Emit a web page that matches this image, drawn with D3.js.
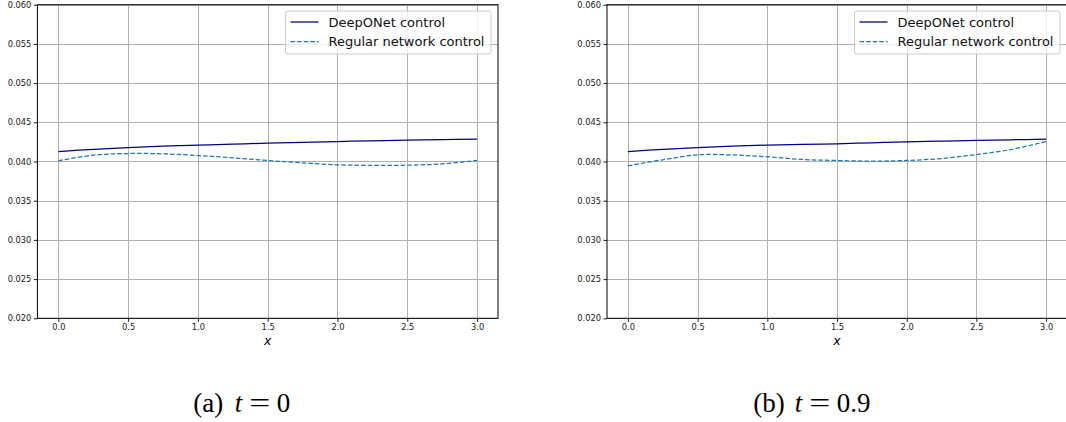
<!DOCTYPE html>
<html>
<head>
<meta charset="utf-8">
<script src="https://cdn.jsdelivr.net/npm/d3@7"></script>
<style>
  body { margin: 0; background: #fff; }
  svg { display: block; }
  .tick text { font-family: "DejaVu Sans", sans-serif; font-size: 8.3px; fill: #222; }
</style>
</head>
<body>
<svg width="1066" height="422"></svg>
<script>
var xs = [0, 0.25, 0.5, 0.75, 1.0, 1.25, 1.5, 1.75, 2.0, 2.25, 2.5, 2.75, 3.0];

// panel (a) t = 0
var deepT0 = [0.04127, 0.04155, 0.04178, 0.04195, 0.04209, 0.04222, 0.04234, 0.04245, 0.04255, 0.04264, 0.04273, 0.04280, 0.04285];
var regT0  = [0.04009, 0.04081, 0.04102, 0.04098, 0.04076, 0.04047, 0.04013, 0.03983, 0.03958, 0.03950, 0.03953, 0.03969, 0.04013];

// panel (b) t = 0.9
var deepT09 = [0.04127, 0.04155, 0.04178, 0.04195, 0.04209, 0.04218, 0.04226, 0.04239, 0.04251, 0.04260, 0.04268, 0.04277, 0.04285];
var regT09  = [0.03945, 0.04022, 0.04085, 0.04083, 0.04060, 0.04026, 0.04013, 0.04005, 0.04013, 0.04038, 0.04089, 0.04153, 0.04255];

var xTicks = [0, 0.5, 1.0, 1.5, 2.0, 2.5, 3.0];
var yTicks = [0.020, 0.025, 0.030, 0.035, 0.040, 0.045, 0.050, 0.055, 0.060];
var seriesNames = ["DeepONet control", "Regular network control"];
var captionLabels = ["(a)", "(b)"];
var captionValues = ["0", "0.9"];

var panels = [
  {left: 37.4, right: 498, deep: deepT0, reg: regT0, capX: 193.3},
  {left: 607, right: 1067, deep: deepT09, reg: regT09, capX: 753.3}
];
var plotTop = 4.7, plotBottom = 318.3;
var dash = "4.6,2";

var svg = d3.select("svg");

panels.forEach(function(p, i) {
  var xScale = d3.scaleLinear().domain([-0.15, 3.15]).range([p.left, p.right]);
  var yScale = d3.scaleLinear().domain([0.020, 0.060]).range([plotBottom, plotTop]);
  var g = svg.append("g");

  // grid
  g.selectAll(".vgrid").data(xTicks).enter().append("line")
    .attr("x1", function(d) { return Math.round(xScale(d)) + 0.5; })
    .attr("x2", function(d) { return Math.round(xScale(d)) + 0.5; })
    .attr("y1", plotTop).attr("y2", plotBottom)
    .attr("stroke", "#b0b0b0").attr("stroke-width", 1);
  g.selectAll(".hgrid").data(yTicks).enter().append("line")
    .attr("y1", function(d) { return Math.round(yScale(d)) + 0.5; })
    .attr("y2", function(d) { return Math.round(yScale(d)) + 0.5; })
    .attr("x1", p.left).attr("x2", p.right)
    .attr("stroke", "#b0b0b0").attr("stroke-width", 1);

  // lines
  var line = d3.line()
    .x(function(d, j) { return xScale(xs[j]); })
    .y(function(d) { return yScale(d); })
    .curve(d3.curveCatmullRom);
  g.append("path").datum(p.deep).attr("d", line)
    .attr("fill", "none").attr("stroke", "#000080").attr("stroke-width", 1.25);
  g.append("path").datum(p.reg).attr("d", line)
    .attr("fill", "none").attr("stroke", "#1f77b4").attr("stroke-width", 1.25)
    .attr("stroke-dasharray", dash);

  // axes
  var xAxis = g.append("g")
    .attr("transform", "translate(0," + plotBottom + ")")
    .call(d3.axisBottom(xScale).tickValues(xTicks).tickSize(3.5).tickPadding(2.5).tickFormat(d3.format(".1f")));
  xAxis.select(".domain").remove();
  var yAxis = g.append("g")
    .attr("transform", "translate(" + p.left + ",0)")
    .call(d3.axisLeft(yScale).tickValues(yTicks).tickSize(3.5).tickPadding(2.5).tickFormat(d3.format(".3f")));
  yAxis.select(".domain").remove();
  g.selectAll(".tick line").attr("stroke", "#000").attr("stroke-width", 0.9);

  // spines
  g.append("rect")
    .attr("x", p.left).attr("y", plotTop)
    .attr("width", p.right - p.left).attr("height", plotBottom - plotTop)
    .attr("fill", "none").attr("stroke", "#000").attr("stroke-width", 1);

  // x label
  g.append("text")
    .attr("x", (p.left + p.right) / 2).attr("y", 345)
    .attr("text-anchor", "middle")
    .style("font-family", "DejaVu Sans, sans-serif").style("font-style", "italic").style("font-size", "12.5px")
    .text("x");

  // legend
  var lw = 205.5, lx = p.right - 7 - lw, ly = 11;
  var leg = g.append("g");
  leg.append("rect")
    .attr("x", lx).attr("y", ly).attr("width", lw).attr("height", 43).attr("rx", 2.5)
    .attr("fill", "#fff").attr("fill-opacity", 0.8)
    .attr("stroke", "#cccccc").attr("stroke-width", 1);
  seriesNames.forEach(function(name, k) {
    var cy = ly + 11 + k * 19.7;
    leg.append("line")
      .attr("x1", lx + 5).attr("x2", lx + 33).attr("y1", cy).attr("y2", cy)
      .attr("stroke", k === 0 ? "#000080" : "#1f77b4").attr("stroke-width", 1.25)
      .attr("stroke-dasharray", k === 0 ? null : dash);
    leg.append("text")
      .attr("x", lx + 43).attr("y", cy + 4.6)
      .style("font-family", "DejaVu Sans, sans-serif").style("font-size", "13px").attr("fill", "#111")
      .text(name);
  });

  // caption
  var cap = svg.append("g").style("font-family", "Liberation Serif, serif").style("font-size", "27px").attr("fill", "#000");
  cap.append("text").attr("x", p.capX).attr("y", 411.5).text(captionLabels[i]);
  cap.append("text").attr("x", p.capX + 41.5).attr("y", 411.5).style("font-style", "italic").text("t");
  cap.append("text").attr("x", p.capX + 56).attr("y", 411.5)
    .attr("textLength", 21).attr("lengthAdjust", "spacingAndGlyphs").text("=");
  cap.append("text").attr("x", p.capX + 83.4).attr("y", 411.5).text(captionValues[i]);
});
</script>
</body>
</html>
